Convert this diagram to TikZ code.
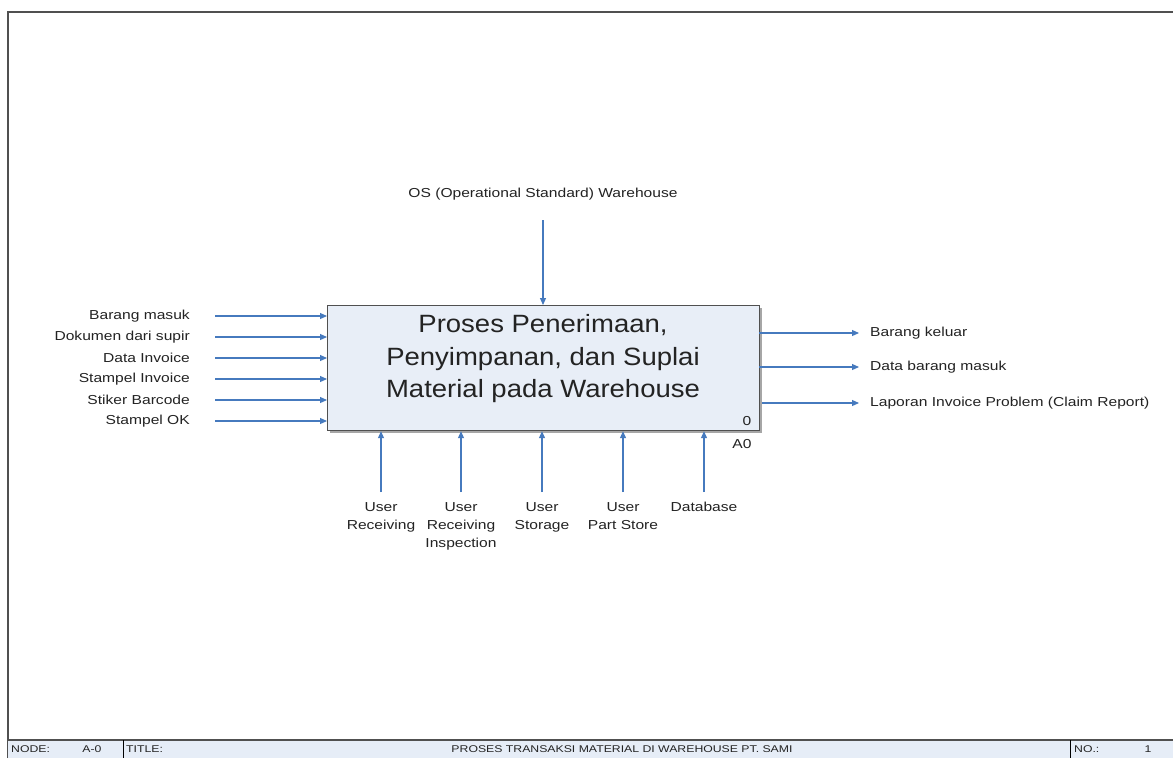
\documentclass[tikz,border=0pt]{standalone}
\usepackage{fontspec}
\setmainfont{Liberation Sans}
\newfontfamily\lblfont[FakeStretch=1.2]{Liberation Sans}
\newfontfamily\boxfont[FakeStretch=1.1]{Liberation Sans}
\newfontfamily\barfont[FakeStretch=1.25]{Liberation Sans}
\usetikzlibrary{arrows.meta}
\definecolor{flow}{RGB}{70,122,190}
\definecolor{boxfill}{RGB}{232,238,247}
\definecolor{barfill}{RGB}{230,237,247}
\definecolor{framec}{RGB}{80,80,80}
\definecolor{txt}{RGB}{35,35,35}
\tikzset{
  flowarrow/.style={draw=flow, line width=1.1pt, -{Triangle[length=7pt,width=6pt]}},
  lbl/.style={font=\lblfont\fontsize{13}{18}\selectfont, text=txt, inner sep=0pt},
  barlbl/.style={font=\barfont\fontsize{9.8}{10}\selectfont, text=txt, inner sep=0pt},
}
\begin{document}
\begin{tikzpicture}[x=1pt,y=-1pt]
\useasboundingbox (0,0) rectangle (1173,758);
\fill[white] (0,0) rectangle (1173,758);
% sheet frame
\draw[framec, line width=1.8pt] (8,758) -- (8,12) -- (1173,12);
% title bar
\fill[barfill] (8,740) rectangle (1173,758);
\draw[framec, line width=1.6pt] (8,740) -- (1173,740);
\draw[black, line width=0.8pt] (123,740) -- (123,758);
\draw[black, line width=0.8pt] (1070,740) -- (1070,758);
\node[barlbl, anchor=west] (nodelbl) at (11,749.5) {NODE:};
\node[barlbl] (nodeval) at (92,749.5) {A-0};
\node[barlbl, anchor=west] (titlelbl) at (126,749.5) {TITLE:};
\node[barlbl] (titleval) at (622,749.5) {PROSES TRANSAKSI MATERIAL DI WAREHOUSE PT. SAMI};
\node[barlbl, anchor=west] (nolbl) at (1074,749.5) {NO.:};
\node[barlbl] (noval) at (1148,749.5) {1};

% activity box with shadow
\fill[gray!70] (329.5,307.5) rectangle (761.5,432.5);
\node[draw=framec, fill=boxfill, line width=1.2pt, minimum width=432pt, minimum height=125pt,
      anchor=north west, inner sep=0pt] (box) at (327,305) {};
\node[font=\boxfont\fontsize{25}{32.5}\selectfont, text=txt, align=center] (boxtext) at (543,359)
  {Proses Penerimaan,\\Penyimpanan, dan Suplai\\Material pada Warehouse};
\node[lbl] (boxnum) at (747,421) {0};
\node[lbl] (boxid) at (742,444) {A0};

% control
\node[lbl] (ctrl) at (543,194) {OS (Operational Standard) Warehouse};
\coordinate (ctrlstart) at (543,220);
\draw[flowarrow] (ctrlstart) -- (box.north -| ctrlstart);

% inputs
\foreach \name/\y/\t in {in1/316/Barang masuk, in2/337/Dokumen dari supir, in3/358/Data Invoice,
                         in4/379/Stampel Invoice, in5/400/Stiker Barcode, in6/421/Stampel OK}{
  \node[lbl, anchor=east] (\name) at (190,\y) {\t};
  \coordinate (\name s) at (215,\y);
  \draw[flowarrow] (\name s) -- (box.west |- \name s);
}

% outputs
\foreach \name/\y/\x/\t in {out1/333/759/Barang keluar, out2/367/759/Data barang masuk,
                            out3/403/762/Laporan Invoice Problem (Claim Report)}{
  \node[lbl, anchor=west] (\name) at (870,\y) {\t};
  \coordinate (\name s) at (\x,\y);
  \coordinate (\name e) at (859,\y);
  \draw[flowarrow] (\name s) -- (\name e);
}

% mechanisms
\foreach \name/\x/\t in {m1/381/User\\Receiving, m2/461/User\\Receiving\\Inspection,
                         m3/542/User\\Storage, m4/623/User\\Part Store, m5/704/Database}{
  \node[lbl, align=center, anchor=north] (\name) at (\x,502) {\t};
  \coordinate (\name s) at (\x,492);
  \draw[flowarrow] (\name s) -- (box.south -| \name s);
}
\end{tikzpicture}
\end{document}
